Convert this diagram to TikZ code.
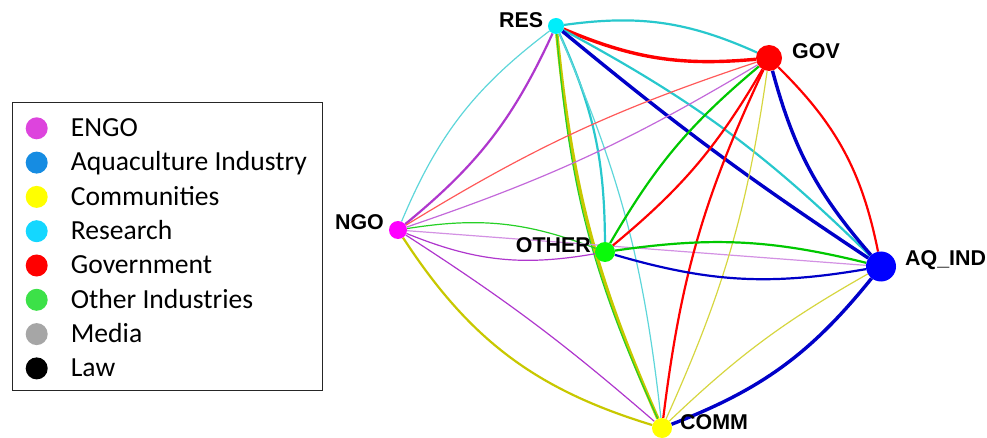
\documentclass[tikz,border=0pt]{standalone}
\usepackage{fontspec}
\newfontfamily\lblfont{Liberation Sans}
\newfontfamily\legfont{Carlito}
\usetikzlibrary{backgrounds}

% node fills
\definecolor{nRes}{RGB}{0,238,250}
\definecolor{nGov}{RGB}{255,0,0}
\definecolor{nAq}{RGB}{0,0,255}
\definecolor{nComm}{RGB}{255,255,0}
\definecolor{nNgo}{RGB}{255,0,255}
\definecolor{nOther}{RGB}{10,250,10}
% edge colours
\definecolor{eCyan}{RGB}{40,200,205}
\definecolor{eRed}{RGB}{255,0,0}
\definecolor{eBlue}{RGB}{0,0,200}
\definecolor{eYellow}{RGB}{200,200,0}
\definecolor{eGreen}{RGB}{0,200,0}
\definecolor{ePurple}{RGB}{175,55,205}
% legend colours
\definecolor{lEngo}{RGB}{221,68,221}
\definecolor{lAq}{RGB}{22,140,226}
\definecolor{lComm}{RGB}{255,255,0}
\definecolor{lRes}{RGB}{20,215,255}
\definecolor{lGov}{RGB}{255,0,0}
\definecolor{lOther}{RGB}{60,225,72}
\definecolor{lMedia}{RGB}{166,166,166}
\definecolor{lLaw}{RGB}{0,0,0}

\tikzset{
  actor/.style={circle, inner sep=0pt, minimum size=#1},
  lbl/.style={inner sep=0pt, font=\lblfont\bfseries\fontsize{21.4}{24}\selectfont},
  legtext/.style={inner sep=0pt, anchor=base west, font=\legfont\fontsize{27.6}{30}\selectfont},
  legdot/.style={circle, inner sep=0pt, minimum size=22pt},
  w1/.style={line width=1.2pt},
  w2/.style={line width=2.2pt},
  w3/.style={line width=3.4pt},
}

\begin{document}
\begin{tikzpicture}[x=1pt, y=1pt]
\useasboundingbox (0,0) rectangle (987,-438);

% actors
\node[actor=16pt, fill=nRes]   (res)   at (556,-26)  {};
\node[actor=26pt, fill=nGov]   (gov)   at (769,-58)  {};
\node[actor=30pt, fill=nAq]    (aq)    at (881,-266.5) {};
\node[actor=20pt, fill=nComm]  (comm)  at (662,-428) {};
\node[actor=18pt, fill=nNgo]   (ngo)   at (398,-230) {};
\node[actor=20pt, fill=nOther] (other) at (605,-252) {};

% actor labels
\node[lbl, anchor=base west] (lres)   at (499,-27.3)  {RES};
\node[lbl, anchor=base west] (lgov)   at (792,-58.3)  {GOV};
\node[lbl, anchor=base west] (laq)    at (905,-265.5) {AQ\_IND};
\node[lbl, anchor=base west] (lcomm)  at (680,-429.3) {COMM};
\node[lbl, anchor=base east] (lngo)   at (384,-229.3) {NGO};
\node[lbl, anchor=base west] (lother) at (515.7,-252.3) {OTHER};

% ties between actors
\begin{scope}[on background layer]
  % from RES
  \draw[eCyan, w2]    (res) to[bend left=16]  (gov);
  \draw[eRed, w3]     (res) to[bend right=14] (gov);
  \draw[eCyan, w2]    (res) to[bend left=8]   (aq);
  \draw[eBlue, w3]    (res) to[bend right=3]  (aq);
  \draw[eCyan!75, w1] (res) to[bend right=15] (ngo);
  \draw[ePurple, w2]  (res) to[bend left=13]  (ngo);
  \draw[eYellow, w3]  (res) to[bend right=9]  (comm);
  \draw[eGreen!85, w1] (res) to[bend right=10] (comm);
  \draw[eCyan, w2]    (res) to[bend left=12]  (other);
  \draw[eCyan!75, w1] (res) to[bend left=8.5] (comm);
  % from NGO
  \draw[eRed!65, w1]  (ngo) to[bend left=6.5] (gov);
  \draw[ePurple!75, w1] (ngo) to[bend right=6]  (gov);
  \draw[eGreen!85, w1] (ngo) to[bend left=15]  (other);
  \draw[ePurple!55, w1] (ngo) -- (aq);
  \draw[ePurple, w1]  (ngo) to[bend right=16] (other);
  \draw[eYellow, w2]  (ngo) to[bend right=20] (comm);
  \draw[ePurple, w1]  (ngo) to[bend left=4]   (comm);
  % from GOV
  \draw[eGreen, w2]   (gov) to[bend right=10] (other);
  \draw[eRed, w2]     (gov) to[bend left=10]  (other);
  \draw[eRed, w2]     (gov) to[bend right=9]  (comm);
  \draw[eYellow!75, w1] (gov) to[bend left=8]   (comm);
  \draw[eBlue, w3]    (gov) to[bend right=13] (aq);
  \draw[eRed, w2]     (gov) to[bend left=17]  (aq);
  % from OTHER
  \draw[eGreen, w2]   (other) to[bend left=11]  (aq);
  \draw[eBlue, w2]    (other) to[bend right=13] (aq);
  % from COMM
  \draw[eBlue, w3]    (comm) to[bend right=15] (aq);
  \draw[eYellow!75, w1] (comm) to[bend left=7]  (aq);
\end{scope}

% legend
\node[draw=black!85, line width=1pt, minimum width=310pt, minimum height=288pt,
      inner sep=0pt, anchor=north west] (legbox) at (11.7,-102.3) {};
\foreach \c/\t [count=\i from 0] in {lEngo/ENGO, lAq/Aquaculture Industry,
    lComm/Communities, lRes/Research, lGov/Government,
    lOther/Other Industries, lMedia/Media, lLaw/Law}{
  \node[legdot, fill=\c] (dot\i) at (36.7,-128.3-34.3*\i) {};
  \node[legtext] (txt\i) at (70.7,-136.7-34.3*\i) {\t};
}
\end{tikzpicture}
\end{document}
